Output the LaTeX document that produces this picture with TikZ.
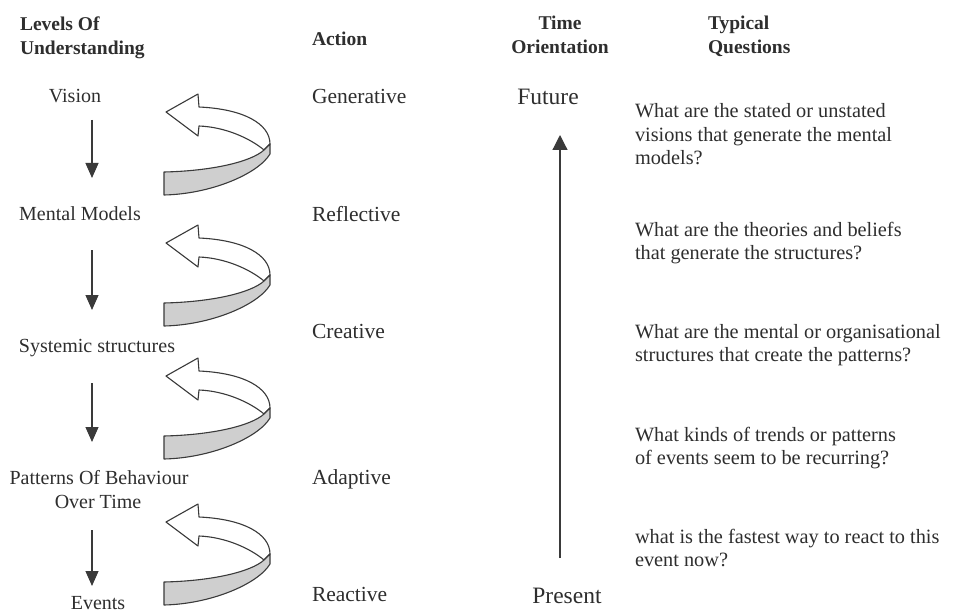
\documentclass[tikz,border=0pt]{standalone}
\usepackage{fontspec}
\setmainfont{Liberation Serif}
\usetikzlibrary{arrows.meta}
\definecolor{textc}{HTML}{2E2E2E}
\definecolor{linec}{HTML}{3A3A3A}
\definecolor{bandgray}{HTML}{CFCFCF}
\newcommand\qlines[1]{\begin{tabular}[t]{@{}l@{}}#1\end{tabular}}
\begin{document}
\begin{tikzpicture}[x=1pt,y=-1pt,
  every node/.style={inner sep=0pt, outer sep=0pt, text=textc},
  headtxt/.style={font=\bfseries\fontsize{19.5}{24}\selectfont},
  leveltxt/.style={anchor=base, font=\fontsize{20}{24}\selectfont},
  actiontxt/.style={anchor=base west, font=\fontsize{21.5}{24}\selectfont},
  timetxt/.style={anchor=base, font=\fontsize{23.5}{26}\selectfont},
  questtxt/.style={anchor=base west, font=\fontsize{20.3}{23.5}\selectfont},
  downarrow/.style={draw=linec, line width=1.2pt, -{Triangle[width=13pt,length=15pt]}},
  uparrow/.style={draw=linec, line width=1.2pt, -{Triangle[width=15pt,length=15pt]}},
  loopline/.style={draw=linec, line width=1.1pt, line join=round},
  looparrow/.pic={
    \draw[loopline, fill=white] (0,0) -- (32,-18) -- (33,-5)
      .. controls (78,-3) and (104,12) .. (104,32) -- (98,38)
      .. controls (85,27) and (60,15) .. (33,14) -- (32,24) -- cycle;
    \draw[loopline, fill=bandgray] (98,38) -- (104,32) -- (104,42)
      .. controls (92,62) and (45,82) .. (-2,83) -- (-2,60)
      .. controls (45,59) and (85,50) .. cycle;
  }]
\useasboundingbox (0,0) rectangle (959,615);
\fill[white] (0,0) rectangle (959,615);

% headings
\node[headtxt, anchor=base west] (hlev1) at (20,31) {Levels Of};
\node[headtxt, anchor=base west] (hlev2) at (20,55) {Understanding};
\node[headtxt, anchor=base west] (hact) at (312,46) {Action};
\node[headtxt, anchor=base] (htime1) at (560,30) {Time};
\node[headtxt, anchor=base] (htime2) at (560,54) {Orientation};
\node[headtxt, anchor=base west] (hq1) at (708,30) {Typical};
\node[headtxt, anchor=base west] (hq2) at (708,54) {Questions};

% levels of understanding
\node[leveltxt] (vision) at (75,103) {Vision};
\node[leveltxt] (mental) at (80,220) {Mental Models};
\node[leveltxt] (systemic) at (97,352) {Systemic structures};
\node[leveltxt] (patterns) at (99,484) {Patterns Of Behaviour};
\node[leveltxt] (overtime) at (98,508) {Over Time};
\node[leveltxt] (events) at (98,609) {Events};

\coordinate (d1s) at (92,120); \coordinate (d1e) at (92,178);
\coordinate (d2s) at (92,250); \coordinate (d2e) at (92,310);
\coordinate (d3s) at (92,383); \coordinate (d3e) at (92,442);
\coordinate (d4s) at (92,530); \coordinate (d4e) at (92,586);
\draw[downarrow] (d1s) -- (d1e);
\draw[downarrow] (d2s) -- (d2e);
\draw[downarrow] (d3s) -- (d3e);
\draw[downarrow] (d4s) -- (d4e);

% curved arrows
\pic at (166,112) {looparrow};
\pic at (166,243) {looparrow};
\pic at (166,376) {looparrow};
\pic at (166,522) {looparrow};

% actions
\node[actiontxt] (generative) at (312,104) {Generative};
\node[actiontxt] (reflective) at (312,222) {Reflective};
\node[actiontxt] (creative) at (312,338) {Creative};
\node[actiontxt] (adaptive) at (312,484) {Adaptive};
\node[actiontxt] (reactive) at (312,601) {Reactive};

% time orientation
\node[timetxt] (future) at (548,105) {Future};
\node[timetxt] (present) at (567,603) {Present};
\coordinate (ts) at (560,558);
\coordinate (te) at (560,135);
\draw[uparrow] (ts) -- (te);

% typical questions
\node[questtxt] (q1) at (635,118) {\qlines{What are the stated or unstated\\visions that generate the mental\\models?}};
\node[questtxt] (q2) at (635,236) {\qlines{What are the theories and beliefs\\that generate the structures?}};
\node[questtxt] (q3) at (635,338) {\qlines{What are the mental or organisational\\structures that create the patterns?}};
\node[questtxt] (q4) at (635,441) {\qlines{What kinds of trends or patterns\\of events seem to be recurring?}};
\node[questtxt] (q5) at (635,543) {\qlines{what is the fastest way to react to this\\event now?}};
\end{tikzpicture}
\end{document}
